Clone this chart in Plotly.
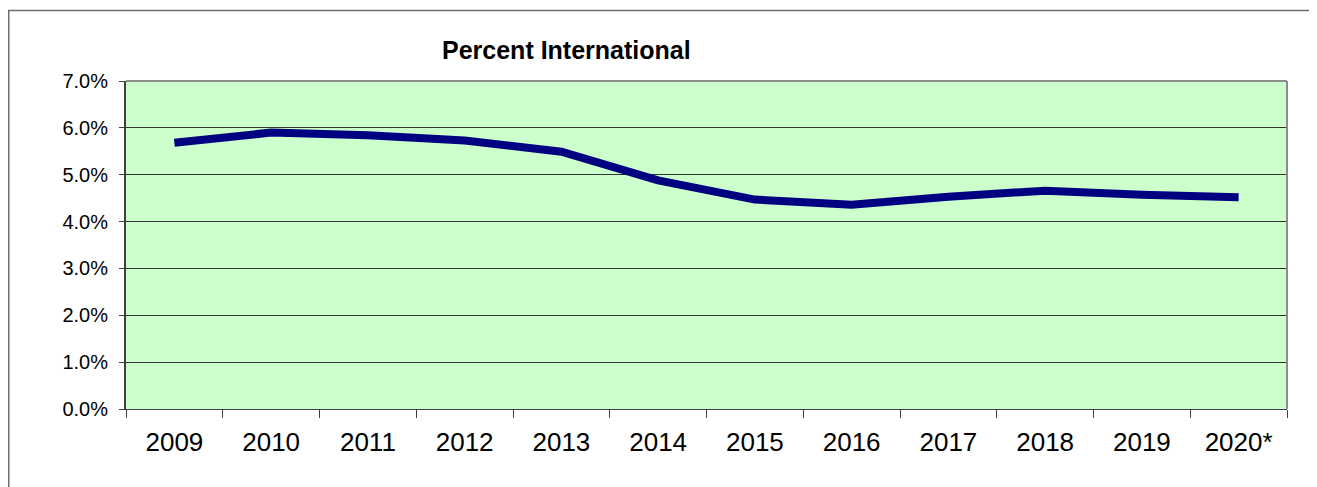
import plotly.graph_objects as go

years = ["2009", "2010", "2011", "2012", "2013", "2014", "2015", "2016", "2017", "2018", "2019", "2020*"]
pct_international = [0.0568, 0.0590, 0.0584, 0.0573, 0.0549, 0.0488, 0.0447, 0.0436, 0.0453, 0.0466, 0.0457, 0.0452]
y_ticks = [0.0, 0.01, 0.02, 0.03, 0.04, 0.05, 0.06, 0.07]
title_text = "Percent International"

# page has an 8px body margin, so figure coords = page coords - 8
OFF = 8
W, H = 1317, 487
L, R, T, B = 126 - OFF, 1317 - 1287 + OFF, 81 - OFF, 487 - 409 + OFF
pw, ph = W - L - R, H - T - B

fig = go.Figure()
fig.add_trace(go.Scatter(
    x=years, y=pct_international, mode="lines",
    line=dict(color="#000080", width=8),
    hoverinfo="x+y", showlegend=False,
))

fig.update_layout(
    width=W, height=H,
    margin=dict(l=L, r=R, t=T, b=B),
    paper_bgcolor="white",
    plot_bgcolor="#CCFFCC",
    font=dict(family="Liberation Sans, Arial, sans-serif", color="black"),
    xaxis=dict(
        type="category", tickson="boundaries", ticks="outside", ticklen=8,
        tickcolor="#404040", tickwidth=1,
        showgrid=False, showline=True, linecolor="#404040", linewidth=1,
        tickfont=dict(size=26), range=[-0.5, 11.5], ticklabelstandoff=10,
        mirror=False,
    ),
    yaxis=dict(
        range=[0, 0.07], tickvals=y_ticks, tickformat=".1%",
        ticks="outside", ticklen=5, tickcolor="#404040",
        showgrid=True, gridcolor="#333333", gridwidth=1,
        showline=True, linecolor="#404040", linewidth=2,
        tickfont=dict(size=20), zeroline=False, ticklabelstandoff=7,
    ),
    shapes=[
        # plot area border (top and right, gray)
        dict(type="line", xref="paper", yref="paper", x0=0, x1=1, y0=1, y1=1,
             line=dict(color="#8c8c8c", width=2)),
        dict(type="line", xref="paper", yref="paper", x0=1, x1=1, y0=0, y1=1,
             line=dict(color="#8c8c8c", width=2)),
        # outer chart frame
        dict(type="rect", xref="paper", yref="paper",
             x0=(0.75 - L) / pw, x1=(W + 20 - L) / pw,
             y0=-(H + 20 - (H - B)) / ph, y1=((H - B) - 2.5) / ph,
             line=dict(color="#6e6e6e", width=1.5), fillcolor="rgba(0,0,0,0)",
             layer="below"),
    ],
    annotations=[
        dict(text="<b>" + title_text + "</b>", xref="paper", yref="paper",
             x=(566 - OFF - L) / pw, y=((H - B) - (50 - OFF)) / ph,
             xanchor="center", yanchor="middle",
             showarrow=False, font=dict(size=25, color="black")),
    ],
)

fig.write_html("out.html")
